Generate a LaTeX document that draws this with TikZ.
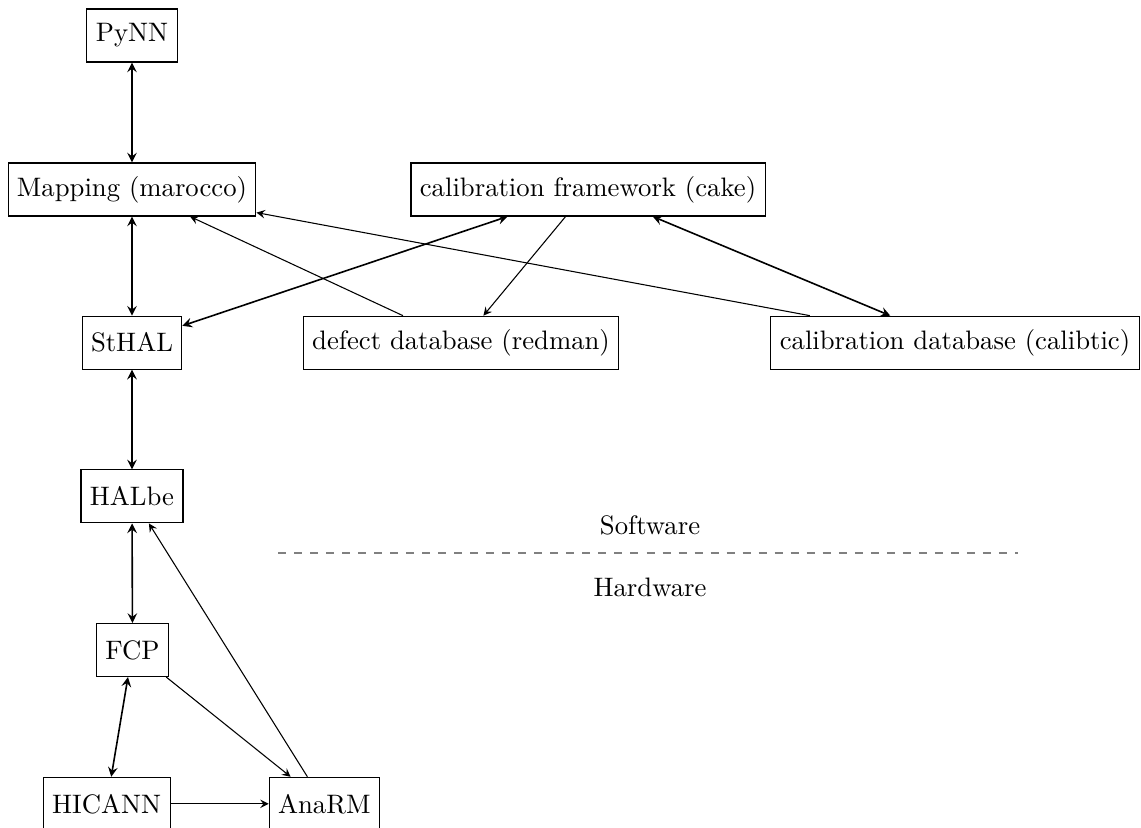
\documentclass[tikz,border=0pt]{standalone}
\usetikzlibrary{arrows}
\begin{document}
\begin{tikzpicture}[x=0.3745pt,y=-0.3745pt,>=stealth,
  box/.style={draw,minimum height=19.85pt},
  bi/.style={<->,semithick},
  uni/.style={->}]
\useasboundingbox (0,0) rectangle (1141,828);
\node[box] (pynn) at (132,35.5) {PyNN};
\node[box] (map) at (132,189.5) {Mapping (marocco)};
\node[box] (cake) at (588,189.5) {calibration framework (cake)};
\node[box] (sthal) at (132,342.7) {StHAL};
\node[box] (redman) at (461,342.7) {defect database (redman)};
\node[box] (calibtic) at (955,342.7) {calibration database (calibtic)};
\node[box] (halbe) at (132,496.4) {HALbe};
\node[box] (fcp) at (132.5,650) {FCP};
\node[box] (hicann) at (106.7,803.8) {HICANN};
\node[box] (anarm) at (324.3,803.8) {AnaRM};
\node (sw) at (650,525) {Software};
\node (hw) at (650,587) {Hardware};
\coordinate (dl) at (278,553);
\coordinate (dr) at (1018,553);
\draw[gray,dashed] (dl) -- (dr);
\draw[bi] (pynn) -- (map);
\draw[bi] (map) -- (sthal);
\draw[bi] (sthal) -- (halbe);
\draw[bi] (halbe) -- (fcp);
\draw[bi] (fcp) -- (hicann);
\draw[bi] (sthal) -- (cake);
\draw[bi] (cake) -- (calibtic);
\draw[uni] (hicann) -- (anarm);
\draw[uni] (fcp) -- (anarm);
\draw[uni] (anarm) -- (halbe);
\draw[uni] (redman) -- (map);
\draw[uni] (cake) -- (redman);
\draw[uni] (calibtic) -- (map);
\end{tikzpicture}
\end{document}
